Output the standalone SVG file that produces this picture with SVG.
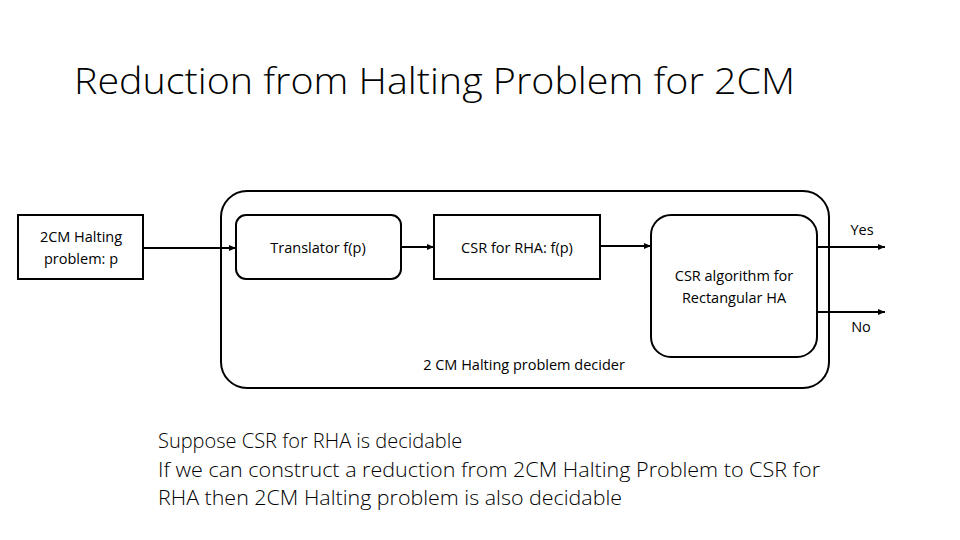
<svg xmlns="http://www.w3.org/2000/svg" width="960" height="540" viewBox="0 0 960 540">
<defs>
<marker id="ah" markerWidth="8" markerHeight="8" refX="7" refY="4" orient="auto" markerUnits="userSpaceOnUse">
<path d="M0,1 L7,4 L0,7 z" fill="#000"/>
</marker>
<style>
.box{fill:#fff;stroke:#000;stroke-width:2}
.t{font-family:"Open Sans","Liberation Sans",Arial,sans-serif;font-size:14.5px;fill:#000;text-anchor:middle}
.c{stroke:#000;stroke-width:2;fill:none;marker-end:url(#ah)}
.big{font-family:"Open Sans","Liberation Sans",sans-serif;font-weight:300;fill:#000}
</style>
</defs>
<rect width="960" height="540" fill="#fff"/>
<text class="big" x="74" y="94" font-size="37" textLength="721" lengthAdjust="spacingAndGlyphs">Reduction from Halting Problem for 2CM</text>
<g id="decider">
<rect class="box" x="221" y="191" width="608" height="197" rx="26"/>
<text class="t" x="524" y="370">2 CM Halting problem decider</text>
</g>
<g id="input">
<rect class="box" x="18" y="215" width="125" height="64"/>
<text class="t" x="81" y="242">2CM Halting</text>
<text class="t" x="81" y="264">problem: p</text>
</g>
<g id="translator">
<rect class="box" x="236" y="215" width="165" height="64" rx="10"/>
<text class="t" x="318" y="253">Translator f(p)</text>
</g>
<g id="csr">
<rect class="box" x="434" y="215" width="166" height="64"/>
<text class="t" x="517" y="253">CSR for RHA: f(p)</text>
</g>
<g id="algo">
<rect class="box" x="651" y="215" width="166" height="142" rx="20"/>
<text class="t" x="734" y="281">CSR algorithm for</text>
<text class="t" x="734" y="303">Rectangular HA</text>
</g>
<g id="connectors">
<line class="c" x1="143" y1="248" x2="236" y2="248"/>
<line class="c" x1="401" y1="247" x2="434" y2="247"/>
<line class="c" x1="600" y1="246" x2="651" y2="246"/>
<line class="c" x1="817" y1="247" x2="885" y2="247"/>
<line class="c" x1="817" y1="312" x2="885" y2="312"/>
<text class="t" x="862" y="235">Yes</text>
<text class="t" x="861" y="332">No</text>
</g>
<g class="big" font-size="20">
<text x="158" y="448">Suppose CSR for RHA is decidable</text>
<text x="158" y="477" textLength="662" lengthAdjust="spacingAndGlyphs">If we can construct a reduction from 2CM Halting Problem to CSR for</text>
<text x="158" y="505" textLength="464" lengthAdjust="spacingAndGlyphs">RHA then 2CM Halting problem is also decidable</text>
</g>
</svg>
